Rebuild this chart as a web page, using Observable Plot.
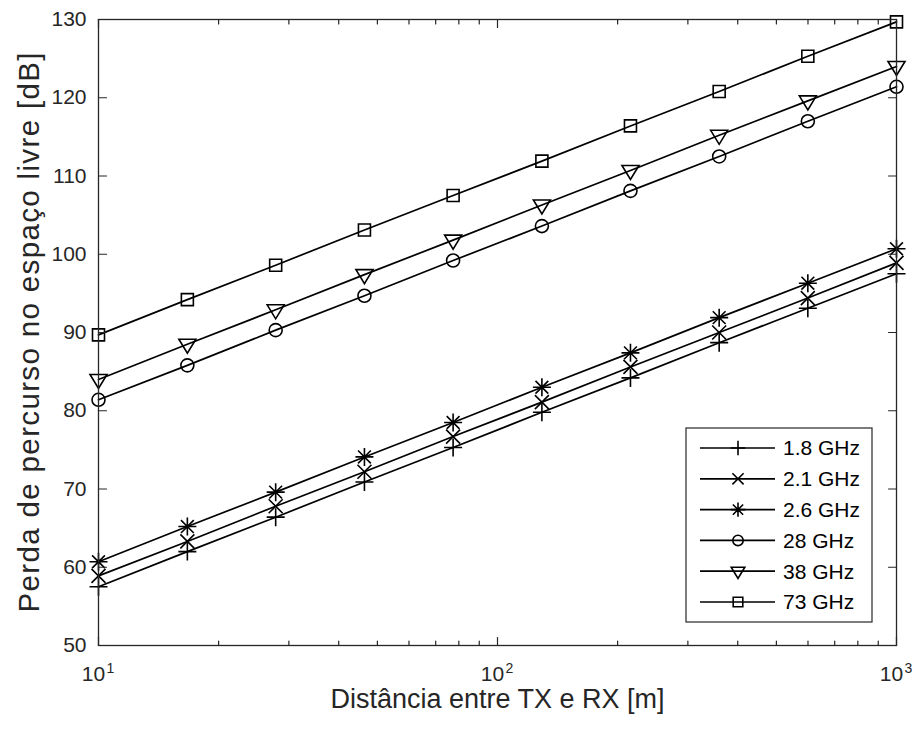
<!DOCTYPE html>
<html>
<head>
<meta charset="utf-8">
<script src="https://cdn.jsdelivr.net/npm/d3@7"></script>
<script src="https://cdn.jsdelivr.net/npm/@observablehq/plot@0.6"></script>
<style>
  html, body { margin: 0; padding: 0; background: white; }
  #chart svg { display: block; }
</style>
</head>
<body>
<div id="chart"></div>
<script>
// ---- data ----
const distances = [10, 16.7, 27.8, 46.4, 77.4, 129.2, 215.4, 359.4, 599.5, 1000];
const seriesNames = ["1.8 GHz", "2.1 GHz", "2.6 GHz", "28 GHz", "38 GHz", "73 GHz"];
const loss18 = [57.5, 62.0, 66.4, 70.9, 75.3, 79.8, 84.2, 88.7, 93.1, 97.5];
const loss21 = [58.9, 63.3, 67.8, 72.2, 76.7, 81.1, 85.6, 90.0, 94.4, 98.9];
const loss26 = [60.7, 65.2, 69.6, 74.1, 78.5, 83.0, 87.4, 91.9, 96.3, 100.7];
const loss28 = [81.4, 85.8, 90.3, 94.7, 99.2, 103.6, 108.1, 112.5, 117.0, 121.4];
const loss38 = [84.0, 88.5, 92.9, 97.4, 101.8, 106.3, 110.7, 115.2, 119.6, 124.0];
const loss73 = [89.7, 94.2, 98.6, 103.1, 107.5, 111.9, 116.4, 120.8, 125.3, 129.7];
const yTicks = [50, 60, 70, 80, 90, 100, 110, 120, 130];
const xMajorTicks = [10, 100, 1000];
const xMinorTicks = [20, 30, 40, 50, 60, 70, 80, 90, 200, 300, 400, 500, 600, 700, 800, 900];
const xTickExponents = ["1", "2", "3"];
const xLabel = "Distância entre TX e RX [m]";
const yLabel = "Perda de percurso no espaço livre [dB]";

const allLoss = [loss18, loss21, loss26, loss28, loss38, loss73];
const rows = [];
seriesNames.forEach((name, i) => {
  distances.forEach((d, j) => rows.push({series: name, d, loss: allLoss[i][j]}));
});

// ---- MATLAB-like marker symbols ----
const symPlus = {draw(c) { c.moveTo(-9, 0); c.lineTo(9, 0); c.moveTo(0, -9); c.lineTo(0, 9); }};
const symTimes = {draw(c) { c.moveTo(-7, -7); c.lineTo(7, 7); c.moveTo(-7, 7); c.lineTo(7, -7); }};
const symAst = {draw(c) {
  c.moveTo(-9, 0); c.lineTo(9, 0); c.moveTo(0, -9); c.lineTo(0, 9);
  c.moveTo(-6.4, -6.4); c.lineTo(6.4, 6.4); c.moveTo(-6.4, 6.4); c.lineTo(6.4, -6.4);
}};
const symCircle = {draw(c) { c.moveTo(6.5, 0); c.arc(0, 0, 6.5, 0, 2 * Math.PI); c.closePath(); }};
const symTriDown = {draw(c) { c.moveTo(-8.5, -5); c.lineTo(8.5, -5); c.lineTo(0, 9); c.closePath(); }};
const symSquare = {draw(c) { c.moveTo(-6, -6); c.lineTo(6, -6); c.lineTo(6, 6); c.lineTo(-6, 6); c.closePath(); }};
const symbols = [symPlus, symTimes, symAst, symCircle, symTriDown, symSquare];

const tickShape = {draw(c, l) { c.moveTo(0, 0); c.lineTo(0, -l); }};
const axisColor = "#262626";
const font = '"Liberation Sans", Arial, Helvetica, sans-serif';

const tickMarks = [];
for (const [anchor, rot] of [["bottom", 0], ["top", 180]]) {
  tickMarks.push(Plot.vector(xMajorTicks, {x: d => d, frameAnchor: anchor, rotate: rot, length: 8, anchor: "start", shape: tickShape, stroke: axisColor, strokeWidth: 1.2}));
  tickMarks.push(Plot.vector(xMinorTicks, {x: d => d, frameAnchor: anchor, rotate: rot, length: 4.5, anchor: "start", shape: tickShape, stroke: axisColor, strokeWidth: 1.2}));
}
for (const [anchor, rot] of [["left", 90], ["right", -90]]) {
  tickMarks.push(Plot.vector(yTicks, {y: d => d, frameAnchor: anchor, rotate: rot, length: 8, anchor: "start", shape: tickShape, stroke: axisColor, strokeWidth: 1.2}));
}

const dotMarks = seriesNames.map((name, i) =>
  Plot.dot(rows.filter(r => r.series === name), {x: "d", y: "loss", symbol: symbols[i], r: 6, fill: "none", stroke: "black", strokeWidth: 1.6})
);

const chart = Plot.plot({
  width: 914,
  height: 731,
  marginTop: 19,
  marginRight: 18,
  marginBottom: 86,
  marginLeft: 98,
  style: {fontFamily: font, background: "white", overflow: "visible"},
  x: {type: "log", domain: [10, 1000], axis: null},
  y: {domain: [50, 130], axis: null},
  marks: [
    Plot.line(rows, {x: "d", y: "loss", z: "series", stroke: "black", strokeWidth: 1.7}),
    ...dotMarks,
    ...tickMarks,
    Plot.frame({stroke: axisColor, strokeWidth: 1.3}),
    // y tick labels
    Plot.text(yTicks, {y: d => d, text: d => String(d), frameAnchor: "left", textAnchor: "end", dx: -12, fontSize: 21, fill: axisColor}),
    // x tick labels: base "10" and exponent
    Plot.text(xMajorTicks, {x: d => d, text: () => "10", frameAnchor: "bottom", textAnchor: "middle", dx: -5, dy: 35, fontSize: 21, fill: axisColor}),
    Plot.text(xMajorTicks, {x: d => d, text: (d, i) => xTickExponents[i], frameAnchor: "bottom", textAnchor: "start", dx: 8, dy: 27, fontSize: 14, fill: axisColor}),
    // axis labels
    Plot.text([xLabel], {text: d => d, frameAnchor: "bottom", textAnchor: "middle", lineAnchor: "middle", dy: 54, fontSize: 27, fill: axisColor}),
    Plot.text([yLabel], {text: d => d, frameAnchor: "left", textAnchor: "middle", lineAnchor: "middle", rotate: -90, dx: -69, fontSize: 29.5, fill: axisColor})
  ]
});

const svg = d3.select(chart);
// y label spans the same length as in the reference
svg.selectAll("text").filter(function () { return this.textContent === yLabel; })
  .attr("textLength", 560).attr("lengthAdjust", "spacing");

// ---- legend box (inside the plot, lower right) ----
const lg = svg.append("g").attr("font-family", font).attr("text-anchor", "start");
lg.append("rect").attr("x", 686).attr("y", 428).attr("width", 186).attr("height", 194)
  .attr("fill", "white").attr("stroke", axisColor).attr("stroke-width", 1.2);
seriesNames.forEach((name, i) => {
  const cy = 448 + i * 30.8;
  lg.append("line").attr("x1", 700).attr("x2", 775).attr("y1", cy).attr("y2", cy)
    .attr("stroke", "black").attr("stroke-width", 1.7);
  lg.append("path").attr("d", d3.symbol(symbols[i], 64)())
    .attr("transform", `translate(738,${cy}) scale(0.8)`)
    .attr("fill", "none").attr("stroke", "black").attr("stroke-width", 2);
  lg.append("text").attr("x", 783).attr("y", cy).attr("dy", "0.35em")
    .attr("text-anchor", "start")
    .attr("font-size", 21).attr("fill", "black").text(name);
});

document.getElementById("chart").appendChild(chart);
</script>
</body>
</html>
